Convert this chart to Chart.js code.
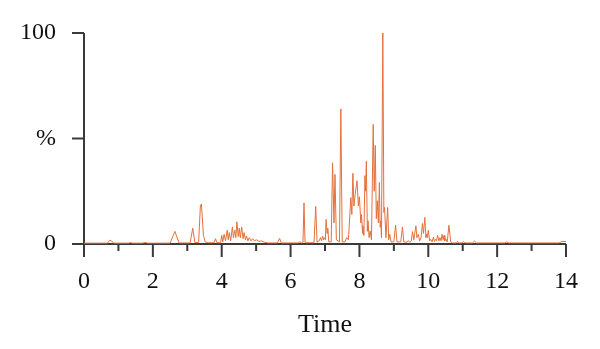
<!DOCTYPE html>
<html>
<head>
<meta charset="utf-8">
<script src="https://cdn.jsdelivr.net/npm/chart.js@4"></script>
<style>
  html, body { margin: 0; padding: 0; background: #fff; }
  #wrap { width: 600px; height: 349px; }
</style>
</head>
<body>
<div id="wrap"><canvas id="grafica" width="600" height="349"></canvas></div>
<script>
const tiempos = [
  0, 0.68, 0.75, 0.8, 0.86, 1.3, 1.35, 1.4, 1.7, 1.78, 1.85, 2.5, 2.64, 2.76,
  3.08, 3.16, 3.22, 3.33, 3.38, 3.41, 3.47, 3.52, 3.6, 3.78, 3.82, 3.86,
  3.97, 4.0, 4.03, 4.07, 4.11, 4.16, 4.19, 4.22, 4.26, 4.31, 4.34, 4.38, 4.41,
  4.44, 4.48, 4.51, 4.54, 4.58, 4.62, 4.65, 4.69, 4.72, 4.76, 4.8, 4.85, 4.9,
  4.95, 5.01, 5.08, 5.15, 5.25, 5.35, 5.62, 5.68, 5.73, 6.22, 6.27, 6.32,
  6.36, 6.39, 6.42, 6.68, 6.73, 6.77, 6.83, 6.87, 6.9, 6.93, 6.96, 6.98, 7.01,
  7.03, 7.06, 7.08, 7.11, 7.18, 7.22, 7.26, 7.29, 7.33, 7.42, 7.46, 7.5, 7.58,
  7.63, 7.68, 7.75, 7.78, 7.81, 7.84, 7.88, 7.93, 7.97, 8.0, 8.04, 8.06, 8.09,
  8.1, 8.13, 8.16, 8.18, 8.2, 8.23, 8.25, 8.28, 8.31, 8.35, 8.4, 8.43, 8.46,
  8.49, 8.52, 8.55, 8.58, 8.6, 8.62, 8.64, 8.68, 8.71, 8.73, 8.77, 8.82, 8.85,
  8.88, 8.92, 9.0, 9.05, 9.09, 9.2, 9.25, 9.29, 9.38, 9.42, 9.46, 9.51, 9.54,
  9.58, 9.64, 9.67, 9.71, 9.75, 9.79, 9.83, 9.86, 9.9, 9.93, 9.95, 9.97, 10.0,
  10.04, 10.07, 10.11, 10.15, 10.18, 10.21, 10.24, 10.27, 10.31, 10.34, 10.37,
  10.4, 10.43, 10.46, 10.48, 10.5, 10.55, 10.6, 10.65, 10.7, 10.82, 10.85,
  10.88, 10.98, 11.02, 11.06, 11.28, 11.34, 11.4, 12.22, 12.28, 12.34, 13.8,
  13.88, 14.0
];
const porcentaje = [
  0.4, 0.4, 1.8, 1.5, 0.4, 0.4, 0.7, 0.4, 0.4, 0.7, 0.4, 0.4, 6, 0.5,
  0.5, 7.5, 0.6, 0.8, 18, 19, 4, 1, 0.6, 0.6, 2.5, 0.6,
  0.6, 4.1, 1, 4.6, 1.5, 6.5, 2, 5.4, 1.5, 8.1, 3, 6.5, 3,
  10.5, 3.5, 7.5, 3, 8.1, 2.5, 5.4, 2, 3.8, 1.5, 3, 1.5, 2.5,
  1.5, 2, 1.2, 1.5, 0.8, 0.5, 0.5, 2.7, 0.5, 0.5, 1, 0.5,
  0.6, 19.5, 0.6, 0.6, 17.8, 0.8, 1.5, 3, 1.5, 3.8, 2, 3, 2,
  11.6, 5, 7.5, 1, 1, 38.5, 10, 33, 2, 1, 64, 1, 1,
  3, 2, 22, 14, 33.5, 18, 24, 30, 18, 22.4, 10, 14, 5,
  8.6, 4, 32.4, 25, 39.2, 6, 11, 3, 6.2, 2, 56.7, 25, 46.7,
  12, 20.5, 10, 29.2, 8, 11, 3, 100, 15, 17.3, 3, 17.3, 2,
  4.6, 1, 1, 9, 1, 1, 8.1, 1, 0.8, 1.6, 0.8, 1.5, 5.9,
  2, 8.6, 3, 4.6, 1.5, 3, 9.7, 5, 12.6, 3, 4.6, 3, 6.5,
  1.5, 2.2, 1, 3.3, 1.2, 2.2, 1.5, 4.1, 1.5, 3, 1.5,
  4.6, 2, 4.1, 1.5, 2.7, 1, 8.9, 1, 0.5, 0.5, 1.2,
  0.5, 0.5, 1.2, 0.5, 0.5, 1.4, 0.5, 0.5, 1, 0.5, 0.5,
  1.2, 1.2
];
const ticksX = [0, 2, 4, 6, 8, 10, 12, 14];
const ticksY = [0, 50, 100];
const etiquetasY = ['0', '%', '100'];

const colorLinea = 'rgb(228, 112, 60)';
const colorEje = '#3a3a3a';

// ejes con marcas largas/cortas, dibujados con las escalas de Chart.js
const ejes = {
    id: 'ejes',
    beforeDatasetsDraw(chart) {
        const ctx = chart.ctx;
        const x = chart.scales.x;
        const y = chart.scales.y;
        const x0 = x.getPixelForValue(0);
        const y0 = y.getPixelForValue(0);
        ctx.save();
        ctx.strokeStyle = colorEje;
        ctx.lineWidth = 2;
        ctx.beginPath();
        ctx.moveTo(x0 - 12, y0);
        ctx.lineTo(x.getPixelForValue(14), y0);
        ctx.moveTo(x0, y.getPixelForValue(100));
        ctx.lineTo(x0, y0 + 13);
        for (let t = 1; t <= 14; t++) {
            const px = x.getPixelForValue(t);
            ctx.moveTo(px, y0);
            ctx.lineTo(px, y0 + (t % 2 === 0 ? 13 : 7));
        }
        [50, 100].forEach(v => {
            const py = y.getPixelForValue(v);
            ctx.moveTo(x0 - 12, py);
            ctx.lineTo(x0, py);
        });
        ctx.stroke();
        ctx.restore();
    }
};

const ctx = document.getElementById('grafica').getContext('2d');
new Chart(ctx, {
    type: 'line',
    data: {
        datasets: [{
            data: tiempos.map((t, i) => ({ x: t, y: porcentaje[i] })),
            borderColor: colorLinea,
            borderWidth: 1,
            pointRadius: 0,
            tension: 0,
            fill: false,
            clip: false
        }]
    },
    plugins: [ejes],
    options: {
        responsive: false,
        animation: false,
        events: [],
        layout: { padding: { left: 0, right: 34, top: 33, bottom: 0 } },
        plugins: { legend: { display: false }, tooltip: { enabled: false } },
        scales: {
            x: {
                type: 'linear',
                min: 0,
                max: 14,
                afterFit: s => { s.height = 105; s.paddingLeft = 0; s.paddingRight = 0; },
                afterBuildTicks: s => { s.ticks = ticksX.map(v => ({ value: v })); },
                grid: { display: false, drawTicks: false },
                border: { display: false },
                ticks: {
                    color: '#111',
                    padding: 23,
                    maxRotation: 0,
                    font: { family: 'Liberation Serif', size: 24 }
                },
                title: {
                    display: true,
                    text: 'Time',
                    color: '#111',
                    padding: { top: 0, bottom: 8 },
                    font: { family: 'Liberation Serif', size: 26 }
                }
            },
            y: {
                type: 'linear',
                min: 0,
                max: 100,
                afterFit: s => { s.width = 84; s.paddingTop = 0; s.paddingBottom = 0; },
                afterBuildTicks: s => { s.ticks = ticksY.map(v => ({ value: v })); },
                grid: { display: false, drawTicks: false },
                border: { display: false },
                ticks: {
                    color: '#111',
                    padding: 28,
                    font: { family: 'Liberation Serif', size: 24 },
                    callback: (v) => etiquetasY[ticksY.indexOf(v)]
                }
            }
        }
    }
});
</script>
</body>
</html>
